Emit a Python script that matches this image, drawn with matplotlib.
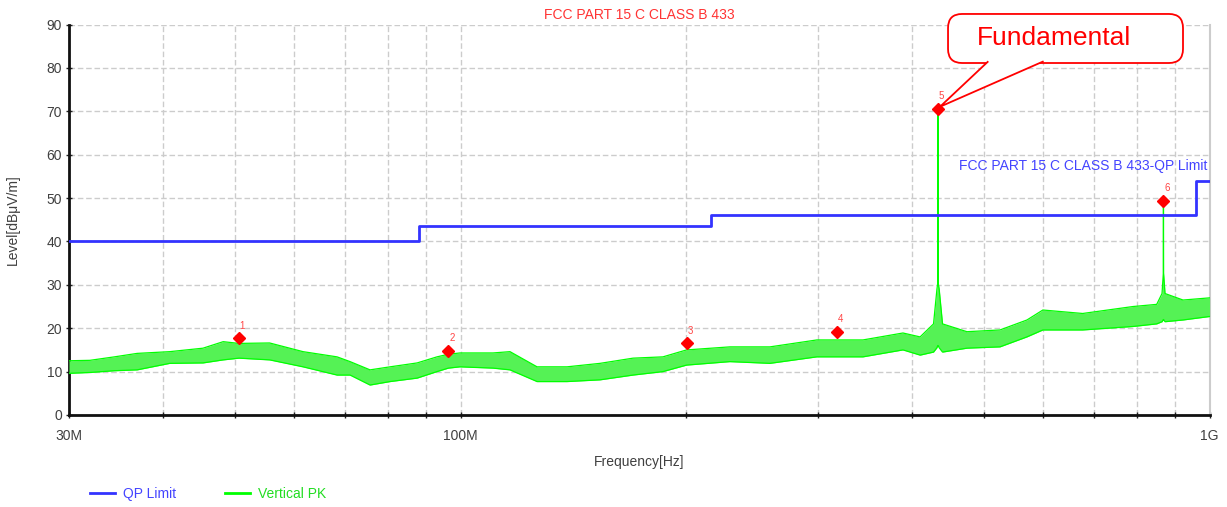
import numpy as np
import matplotlib
matplotlib.use('Agg')
import matplotlib.pyplot as plt
from matplotlib.patches import FancyBboxPatch, Polygon
from matplotlib.transforms import IdentityTransform
from matplotlib.lines import Line2D

plt.rcParams['font.family'] = ['Liberation Sans', 'DejaVu Sans']

# ---------------- data (MHz / dBuV/m) ----------------
limit_edges_mhz = [30, 88, 216, 960, 1000]
limit_levels = [40, 43.5, 46, 54]

trace_freq_mhz = [30.0, 32.0, 34.5, 37.0, 40.9, 45.3, 48.2, 50.6, 55.6, 61.6, 68.4,
                  71.2, 75.7, 80.5, 87.5, 93.0, 96.3, 99.8, 110.5, 116.4, 126.5,
                  138.7, 153.5, 169.9, 186.3, 200.3, 228.8, 258.8, 299.0, 344.5, 389.6,
                  410.7, 428.0, 432.5, 433.6, 433.9, 434.2, 435.5, 440.0, 474.3, 525.0,
                  570.4, 599.0, 677.0, 790.0, 850.0, 864.0, 867.5, 867.8, 868.1, 872.0,
                  921.6, 1000.0]
trace_low = [9.6, 9.8, 10.2, 10.4, 11.9, 12.0, 12.7, 13.1, 12.7, 11.1, 9.2,
             9.2, 6.9, 7.7, 8.5, 10.0, 10.8, 11.1, 10.8, 10.4, 7.7,
             7.7, 8.1, 9.2, 10.0, 11.5, 12.3, 11.9, 13.4, 13.4, 15.0,
             13.8, 14.5, 15.5, 16.0, 16.0, 16.0, 15.5, 14.5, 15.4, 15.7,
             18.0, 19.6, 19.6, 20.4, 21.0, 21.5, 22.0, 22.0, 22.0, 21.5,
             21.9, 22.7]
trace_high = [12.5, 12.6, 13.4, 14.2, 14.6, 15.4, 16.9, 16.5, 16.6, 14.6, 13.4,
              12.3, 10.4, 11.1, 12.0, 13.4, 14.0, 14.3, 14.3, 14.6, 11.1,
              11.1, 11.9, 13.1, 13.4, 15.0, 15.7, 15.7, 17.3, 17.3, 18.9,
              18.0, 21.0, 29.0, 30.4, 70.6, 30.4, 29.0, 21.0, 19.2, 19.6,
              21.9, 24.2, 23.4, 25.0, 25.5, 28.0, 32.7, 49.4, 32.7, 28.0,
              26.5, 27.0]

marker_freq_mhz = [50.6, 96.3, 200.3, 318.4, 433.9, 867.8]
marker_level = [17.7, 14.8, 16.5, 19.2, 70.6, 49.4]
marker_labels = ['1', '2', '3', '4', '5', '6']

x_grid_mhz = [30, 40, 50, 60, 70, 80, 90, 100, 200, 300, 400, 500, 600, 700, 800, 900, 1000]
x_label_map = {30: '30M', 100: '100M', 1000: '1G'}
y_ticks = [0, 10, 20, 30, 40, 50, 60, 70, 80, 90]

# ---------------- figure ----------------
fig = plt.figure(figsize=(12.27, 5.07), dpi=100)
ax = fig.add_axes([0.0562, 0.1815, 0.9296, 0.770])

hz = 1e6
tf = np.array(trace_freq_mhz) * hz
green = '#00ff00'
blue = '#3333ff'

ax.fill_between(tf, trace_low, trace_high, color='#55f255', lw=0, zorder=3)
ax.plot(tf, trace_high, color=green, lw=0.9, zorder=3)
ax.plot(tf, trace_low, color=green, lw=0.9, zorder=3)

le = np.array(limit_edges_mhz) * hz
lv = list(limit_levels) + [limit_levels[-1]]
ax.step(le, lv, where='post', color=blue, lw=2, zorder=4)

mf = np.array(marker_freq_mhz) * hz
ax.plot(mf, marker_level, ls='none', marker='D', ms=6.5, color='#ff0000', zorder=6)
for f, v, lab in zip(mf, marker_level, marker_labels):
    ax.annotate(lab, (f, v), xytext=(2.5, 9), textcoords='offset points',
                ha='center', va='center', fontsize=7, color='#ff4444', zorder=7)

ax.set_xscale('log')
ax.set_xlim(30 * hz, 1000 * hz)
ax.set_ylim(0, 90)
ax.set_xticks([m * hz for m in x_grid_mhz])
ax.set_xticklabels([x_label_map.get(m, '') for m in x_grid_mhz])
ax.minorticks_off()
ax.set_yticks(y_ticks)
ax.tick_params(axis='both', direction='inout', length=4, width=1, color='#222222',
               labelsize=10, labelcolor='#404040')
ax.tick_params(axis='x', pad=8)
ax.tick_params(axis='y', pad=3)
ax.grid(True, color='#cccccc', ls=(0, (4, 2)), lw=1, zorder=0)

for s in ['left', 'bottom']:
    ax.spines[s].set_linewidth(2)
    ax.spines[s].set_color('#111111')
ax.spines['top'].set_visible(False)
ax.spines['right'].set_color('#cccccc')
ax.spines['right'].set_linewidth(1.5)

ax.set_xlabel('Frequency[Hz]', fontsize=10, color='#404040', labelpad=9)
ax.set_ylabel('Level[dBμV/m]', fontsize=10, color='#404040', labelpad=19)

ax.text(0.5, 1.025, 'FCC PART 15 C CLASS B 433', transform=ax.transAxes,
        ha='center', va='center', fontsize=10, color='#ff3333')
ax.text(0.9985, 57.3, 'FCC PART 15 C CLASS B 433-QP Limit',
        transform=ax.get_yaxis_transform(), ha='right', va='center',
        fontsize=10, color='#4444ff', zorder=5)

# callout (drawn in display pixels derived from axes fractions)
(bx0, by0), (bx1, by1) = ax.transAxes.transform([(0.7707, 0.9016), (0.9767, 1.0272)])
box = FancyBboxPatch((bx0, by0), bx1 - bx0, by1 - by0,
                     boxstyle='round,pad=0,rounding_size=14',
                     transform=IdentityTransform(), facecolor='white', edgecolor='#ff0000',
                     lw=1.3, clip_on=False, zorder=8)
ax.add_artist(box)
tip = ax.transData.transform((mf[4], marker_level[4]))
(p0x, p0y), (p1x, _) = ax.transAxes.transform([(0.806, 0.906), (0.8545, 0.906)])
ptr = Polygon([(p0x, p0y), (tip[0] + 2, tip[1] + 2), (p1x, p0y)],
              closed=False, transform=IdentityTransform(), facecolor='white',
              edgecolor='#ff0000', lw=1.3, clip_on=False, zorder=9)
ax.add_artist(ptr)
ax.text(0.8636, 0.966, 'Fundamental', transform=ax.transAxes, ha='center', va='center',
        fontsize=19, color='#ff0000', zorder=10)

# legend
handles = [Line2D([], [], color=blue, lw=2), Line2D([], [], color=green, lw=2)]
leg = fig.legend(handles, ['QP Limit', 'Vertical PK'], loc='center left',
                 bbox_to_anchor=(0.063, 0.025), ncol=2, frameon=False,
                 fontsize=10, handlelength=1.8, handletextpad=0.6, columnspacing=3.5)
for t, c in zip(leg.get_texts(), ['#4444ff', '#22dd22']):
    t.set_color(c)

fig.savefig('out.png', dpi=100)
